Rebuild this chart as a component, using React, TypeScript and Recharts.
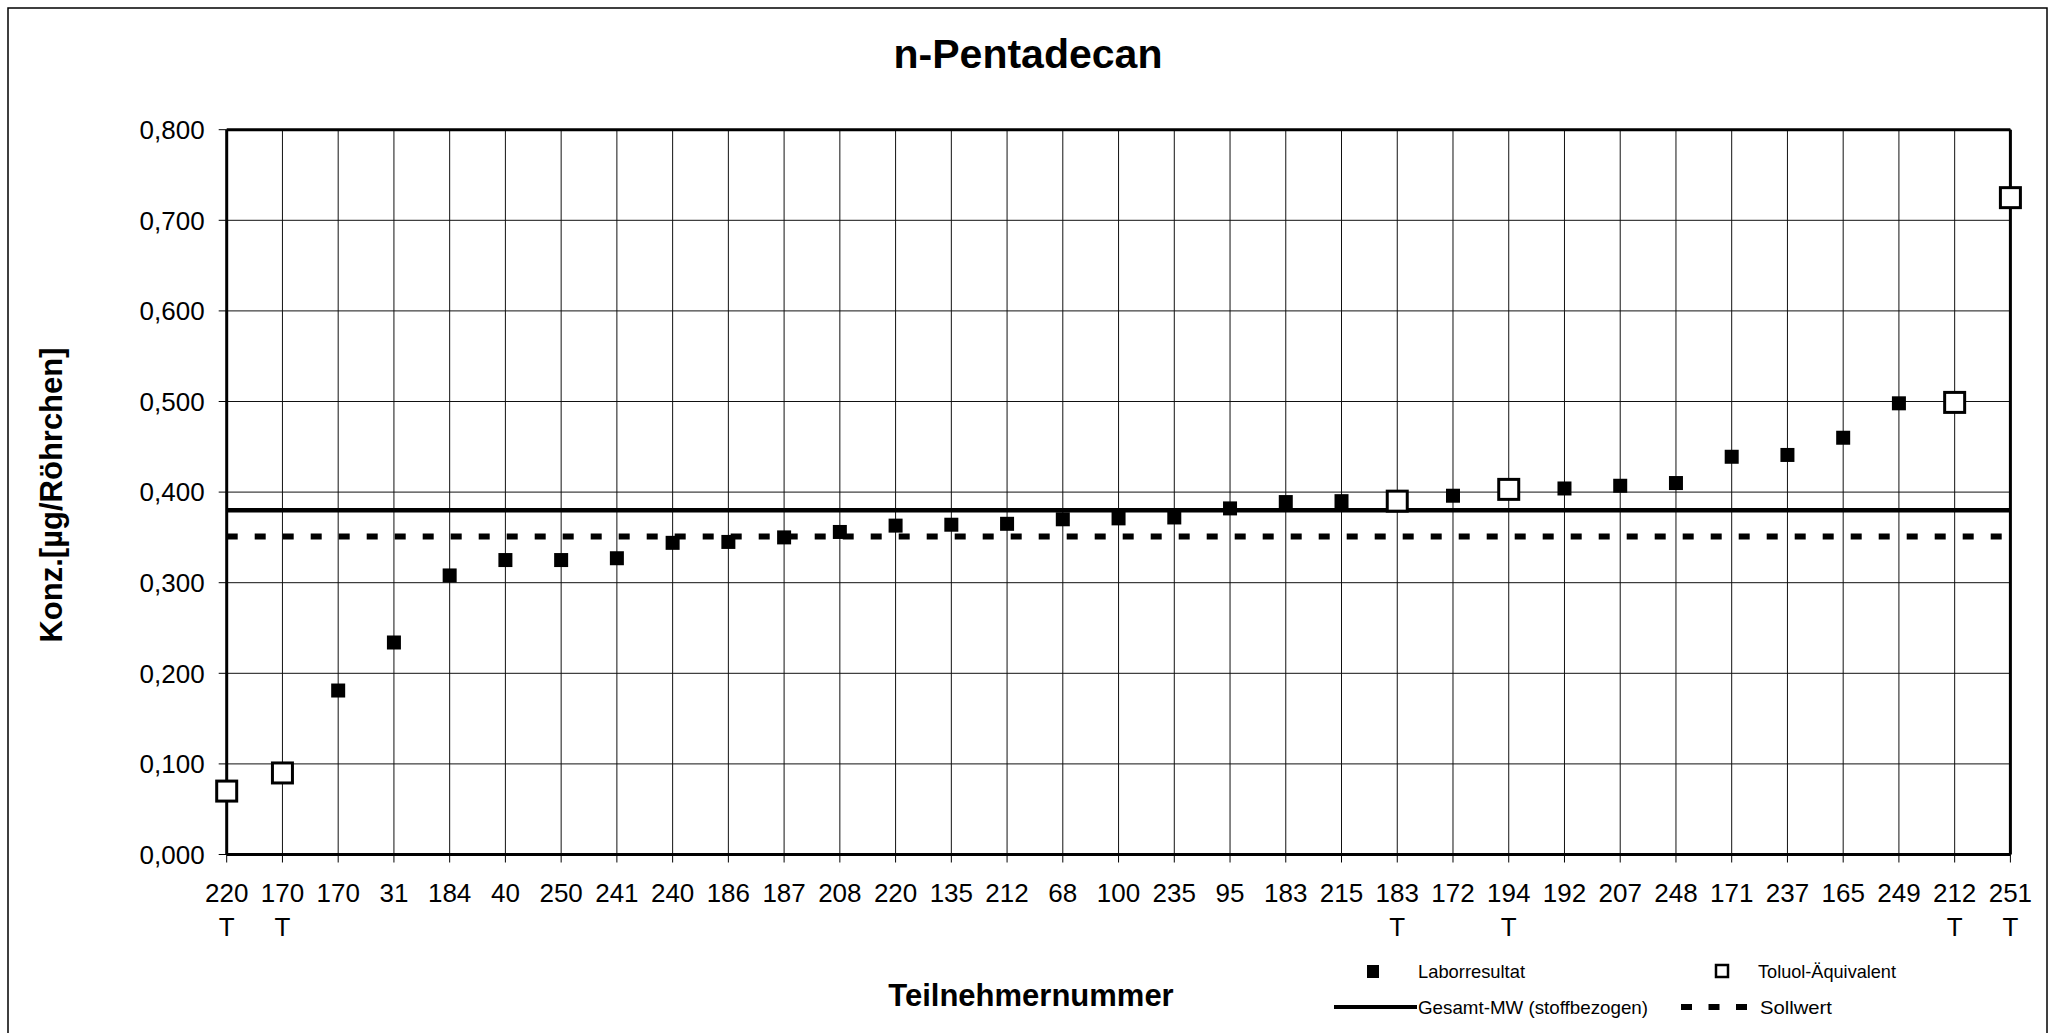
import React from "react";
import {
  ComposedChart,
  Scatter,
  XAxis,
  YAxis,
  CartesianGrid,
  ReferenceLine,
} from "recharts";

// participant numbers along the x axis (in plotted order)
const participants = [
  "220", "170", "170", "31", "184", "40", "250", "241", "240", "186", "187",
  "208", "220", "135", "212", "68", "100", "235", "95", "183", "215", "183",
  "172", "194", "192", "207", "248", "171", "237", "165", "249", "212", "251",
];

// 1 = result given as Toluol-Äquivalent ("T" under the tick)
const toluolFlags = [
  1, 1, 0, 0, 0, 0, 0, 0, 0, 0, 0, 0, 0, 0, 0, 0, 0, 0, 0, 0, 0, 1, 0, 1, 0,
  0, 0, 0, 0, 0, 0, 1, 1,
];

// Konz. [µg/Röhrchen]
const concentrations = [
  0.07, 0.09, 0.181, 0.234, 0.308, 0.325, 0.325, 0.327, 0.344, 0.345, 0.35,
  0.356, 0.363, 0.364, 0.365, 0.37, 0.371, 0.372, 0.382, 0.389, 0.39, 0.39,
  0.396, 0.403, 0.404, 0.407, 0.41, 0.439, 0.441, 0.46, 0.498, 0.499, 0.725,
];

const gesamtMW = 0.38;
const sollwert = 0.351;

const yTicks = [0, 0.1, 0.2, 0.3, 0.4, 0.5, 0.6, 0.7, 0.8];

const W = 2055;
const H = 1033;
const FONT = "'Liberation Sans', Arial, sans-serif";

const rows = participants.map((p, i) => ({
  idx: i,
  label: p,
  toluol: toluolFlags[i] === 1,
  value: concentrations[i],
}));
const laborData = rows.filter((r) => !r.toluol);
const toluolData = rows.filter((r) => r.toluol);
const xTicks = rows.map((r) => r.idx);

const FilledSquare = (props: any) => {
  const { cx, cy } = props;
  if (cx == null || cy == null) return <g />;
  return <rect x={cx - 7} y={cy - 7} width={14} height={14} fill="#000" />;
};

const OpenSquare = (props: any) => {
  const { cx, cy } = props;
  if (cx == null || cy == null) return <g />;
  return (
    <rect
      x={cx - 10}
      y={cy - 10}
      width={20}
      height={20}
      fill="#fff"
      stroke="#000"
      strokeWidth={3}
    />
  );
};

const XTick = (props: any) => {
  const { x, y, payload } = props;
  const row = rows[payload.value];
  if (!row) return <g />;
  return (
    <g>
      <text
        x={x}
        y={y + 37}
        textAnchor="middle"
        fontFamily={FONT}
        fontSize={26}
        fill="#000"
      >
        {row.label}
      </text>
      {row.toluol && (
        <text
          x={x}
          y={y + 71}
          textAnchor="middle"
          fontFamily={FONT}
          fontSize={26}
          fill="#000"
        >
          T
        </text>
      )}
    </g>
  );
};

const fmt = (v: number) => v.toFixed(3).replace(".", ",");

// legend label, squeezed slightly like the original
const LegendText = ({ x, y, w, children }: any) => (
  <text
    x={x}
    y={y}
    fontFamily={FONT}
    fontSize={18.5}
    textLength={w}
    lengthAdjust="spacingAndGlyphs"
  >
    {children}
  </text>
);

function Overlay() {
  return (
    <svg
      width={W}
      height={H}
      style={{ position: "absolute", left: 0, top: 0, pointerEvents: "none" }}
    >
      <rect x={8} y={8} width={2039} height={H} fill="none" stroke="#000" strokeWidth={1.5} />
      <text
        x={1028}
        y={68}
        textAnchor="middle"
        fontFamily={FONT}
        fontWeight="bold"
        fontSize={41}
      >
        n-Pentadecan
      </text>
      <text
        x={1031}
        y={1006}
        textAnchor="middle"
        fontFamily={FONT}
        fontWeight="bold"
        fontSize={31}
      >
        Teilnehmernummer
      </text>
      <text
        transform="translate(62,495) rotate(-90)"
        textAnchor="middle"
        fontFamily={FONT}
        fontWeight="bold"
        fontSize={31}
      >
        Konz.[µg/Röhrchen]
      </text>

      {/* legend */}
      <rect x={1367} y={965} width={12} height={13} fill="#000" />
      <LegendText x={1418} y={978} w={107}>
        Laborresultat
      </LegendText>
      <rect x={1716} y={965} width={12} height={12} fill="#fff" stroke="#000" strokeWidth={2.5} />
      <LegendText x={1758} y={978} w={138}>
        Toluol-Äquivalent
      </LegendText>
      <line x1={1334} y1={1007} x2={1417} y2={1007} stroke="#000" strokeWidth={4} />
      <LegendText x={1418} y={1014} w={230}>
        Gesamt-MW (stoffbezogen)
      </LegendText>
      <line
        x1={1681}
        y1={1007}
        x2={1747}
        y2={1007}
        stroke="#000"
        strokeWidth={6}
        strokeDasharray="11 16.5"
      />
      <LegendText x={1760} y={1014} w={72}>
        Sollwert
      </LegendText>
    </svg>
  );
}

export default function App() {
  return (
    <div
      style={{
        position: "absolute",
        left: 0,
        top: 0,
        width: W,
        height: H,
        background: "#fff",
        overflow: "hidden",
      }}
    >
      <ComposedChart
        width={W}
        height={H}
        margin={{ top: 129.7, right: 44.6, bottom: 58.5, left: 106.7 }}
      >
        <CartesianGrid stroke="#111" strokeWidth={1} />
        <XAxis
          type="number"
          dataKey="idx"
          domain={[0, 32]}
          ticks={xTicks}
          interval={0}
          height={120}
          tick={<XTick />}
          tickSize={8}
          tickLine={{ stroke: "#000", strokeWidth: 1 }}
          axisLine={{ stroke: "#000", strokeWidth: 3 }}
        />
        <YAxis
          type="number"
          dataKey="value"
          domain={[0, 0.8]}
          ticks={yTicks}
          width={120}
          tickSize={8}
          tickMargin={14}
          tickFormatter={fmt}
          tick={{ fill: "#000", fontSize: 26, fontFamily: FONT }}
          tickLine={{ stroke: "#000", strokeWidth: 1 }}
          axisLine={{ stroke: "#000", strokeWidth: 3 }}
        />
        <ReferenceLine y={0.8} stroke="#000" strokeWidth={3} />
        <ReferenceLine x={32} stroke="#000" strokeWidth={3} />
        <ReferenceLine y={gesamtMW} stroke="#000" strokeWidth={4.5} />
        <ReferenceLine
          y={sollwert}
          stroke="#000"
          strokeWidth={6}
          strokeDasharray="11 17"
        />
        <Scatter
          name="Laborresultat"
          data={laborData}
          dataKey="value"
          shape={<FilledSquare />}
          isAnimationActive={false}
        />
        <Scatter
          name="Toluol-Äquivalent"
          data={toluolData}
          dataKey="value"
          shape={<OpenSquare />}
          isAnimationActive={false}
        />
      </ComposedChart>
      <Overlay />
    </div>
  );
}
